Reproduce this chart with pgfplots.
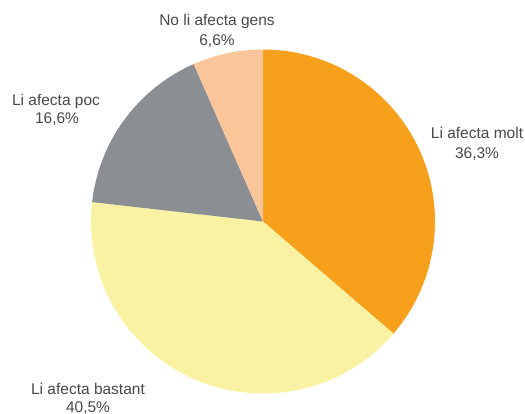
\documentclass[border=0pt]{standalone}
\usepackage{fontspec}
\setmainfont{Liberation Sans}
\usepackage{pgfplots}
\usepackage{pgfplotstable}
\pgfplotsset{compat=1.18}

\definecolor{cmolt}{HTML}{F6A01C}
\definecolor{cbastant}{HTML}{F9F2A2}
\definecolor{cpoc}{HTML}{8B8E93}
\definecolor{cgens}{HTML}{F9C599}
\definecolor{labeltext}{HTML}{484848}

\tikzset{lab/.style={font=\fontsize{15.5}{19}\selectfont, text=labeltext,
    inner sep=0pt, anchor=base}}

% share of each answer, clockwise from the top
\pgfplotstableread{
value colour
36.3  cmolt
40.5  cbastant
16.6  cpoc
6.6   cgens
}\piedata

\begin{document}
\begin{tikzpicture}
\begin{axis}[
    name=ax,
    width=525pt, height=414pt,
    scale only axis,
    xmin=0, xmax=525,
    ymin=0, ymax=414,
    y dir=reverse,
    enlargelimits=false,
    hide axis,
    clip=false,
]
\pgfplotstablegetrowsof{\piedata}
\pgfmathtruncatemacro\nrows{\pgfplotsretval-1}
\def\cum{0}
\pgfplotsforeachungrouped \i in {0,...,\nrows}{%
    \pgfplotstablegetelem{\i}{value}\of\piedata \let\v\pgfplotsretval
    \pgfplotstablegetelem{\i}{colour}\of\piedata \let\c\pgfplotsretval
    \pgfmathsetmacro\a{90-3.6*\cum}
    \pgfmathsetmacro\b{90-3.6*(\cum+\v)}
    \pgfmathsetmacro\cum{\cum+\v}
    \edef\slice{\noexpand\fill[\c] (axis cs:263,221.5) -- ++(\a:172pt)
        arc[start angle=\a, end angle=\b, radius=172pt] -- cycle;}
    \slice
}

\node[lab] at (axis cs:217,26)  {No li afecta gens};
\node[lab] at (axis cs:217,46)  {6,6\%};
\node[lab] at (axis cs:56,106)  {Li afecta poc};
\node[lab] at (axis cs:57,124)  {16,6\%};
\node[lab] at (axis cs:477,139) {Li afecta molt};
\node[lab] at (axis cs:477,159) {36,3\%};
\node[lab] at (axis cs:88,394)  {Li afecta bastant};
\node[lab] at (axis cs:88,412)  {40,5\%};
\end{axis}
\pgfresetboundingbox
\useasboundingbox (ax.south west) rectangle (ax.north east);
\end{tikzpicture}
\end{document}
